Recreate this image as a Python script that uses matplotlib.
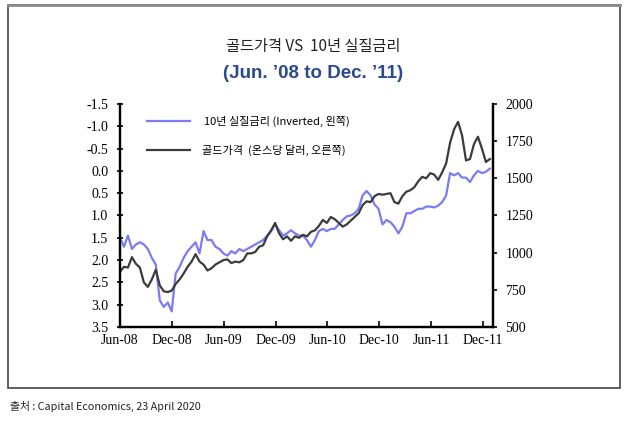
import numpy as np
import pandas as pd
import matplotlib
matplotlib.use("Agg")
import matplotlib.pyplot as plt
from matplotlib.patches import Rectangle

plt.rcParams['font.family'] = ['Noto Sans CJK KR', 'DejaVu Sans']

# biweekly readings, Jun 2008 -> Dec 2011
dates = pd.date_range("2008-06-01", periods=94, freq="14D")

# gold price (USD/oz, right axis)
gold = [872, 905, 900, 970, 925, 900, 800, 770, 820, 885,
        780, 740, 735, 745, 790, 820, 860, 905, 940, 990,
        940, 920, 880, 895, 920, 935, 950, 955, 930, 940,
        935, 950, 995, 995, 1005, 1040, 1050, 1110, 1150, 1200,
        1130, 1090, 1110, 1080, 1110, 1100, 1120, 1110, 1140, 1150,
        1180, 1220, 1200, 1240, 1225, 1200, 1175, 1190, 1215, 1240,
        1265, 1320, 1345, 1340, 1380, 1395, 1390, 1395, 1400, 1340,
        1330, 1380, 1410, 1420, 1440, 1480, 1510, 1500, 1535, 1525,
        1490, 1540, 1600, 1740, 1830, 1880, 1790, 1620, 1630, 1730,
        1780, 1700, 1610, 1630]

# 10y real yield (%, left axis, inverted)
real = [1.50, 1.70, 1.45, 1.75, 1.65, 1.60, 1.65, 1.75, 1.95, 2.10,
        2.90, 3.05, 2.95, 3.15, 2.30, 2.15, 1.95, 1.80, 1.70, 1.60,
        1.85, 1.35, 1.55, 1.55, 1.70, 1.75, 1.85, 1.90, 1.80, 1.85,
        1.75, 1.80, 1.75, 1.70, 1.65, 1.60, 1.55, 1.45, 1.35, 1.20,
        1.33, 1.45, 1.40, 1.33, 1.40, 1.45, 1.45, 1.55, 1.70, 1.55,
        1.35, 1.30, 1.35, 1.30, 1.30, 1.20, 1.10, 1.02, 1.00, 0.95,
        0.85, 0.55, 0.45, 0.55, 0.75, 0.85, 1.20, 1.10, 1.15, 1.25,
        1.40, 1.25, 0.95, 0.95, 0.90, 0.85, 0.85, 0.80, 0.80, 0.82,
        0.78, 0.70, 0.55, 0.05, 0.10, 0.05, 0.15, 0.15, 0.25, 0.10,
        0.00, 0.05, 0.02, -0.05]

xtick_dates = pd.to_datetime(["2008-06-01", "2008-12-01", "2009-06-01", "2009-12-01",
                              "2010-06-01", "2010-12-01", "2011-06-01", "2011-12-01"])
xtick_labels = ["Jun-08", "Dec-08", "Jun-09", "Dec-09", "Jun-10", "Dec-10", "Jun-11", "Dec-11"]
left_ticks = [-1.5, -1.0, -0.5, 0.0, 0.5, 1.0, 1.5, 2.0, 2.5, 3.0, 3.5]
right_ticks = [500, 750, 1000, 1250, 1500, 1750, 2000]

blue = "#7b7bf2"
dark = "#3b3b3b"
navy = "#2b4a8c"
serif = "Liberation Serif"

fig = plt.figure(figsize=(6.3, 4.22), dpi=100)

# outer frame
fig.patches.append(Rectangle((8 / 630, 1 - 388 / 422), 612 / 630, 383 / 422,
                             transform=fig.transFigure, fill=False,
                             edgecolor="#444444", lw=1.2))
fig.add_artist(plt.Line2D([8 / 630, 620 / 630], [1 - 5 / 422] * 2,
                          transform=fig.transFigure, color="#8a8a8a", lw=2))

ax = fig.add_axes([120 / 630, 1 - 327 / 422, 373 / 630, 223 / 422])
ax2 = ax.twinx()

ax.plot(dates, real, color=blue, lw=1.6)
ax2.plot(dates, gold, color=dark, lw=1.6)

ax.set_ylim(3.5, -1.5)
ax.set_yticks(left_ticks)
ax.set_yticklabels(["%.1f" % v for v in left_ticks], fontfamily=serif, fontsize=10)
ax2.set_ylim(500, 2000)
ax2.set_yticks(right_ticks)
ax2.set_yticklabels([str(v) for v in right_ticks], fontfamily=serif, fontsize=10)

ax.set_xlim(pd.Timestamp("2008-06-01"), pd.Timestamp("2012-01-05"))
ax.set_xticks(xtick_dates)
ax.set_xticklabels(xtick_labels, fontfamily=serif, fontsize=10)

for a in (ax, ax2):
    a.spines["top"].set_visible(False)
    for s in ("left", "right", "bottom"):
        a.spines[s].set_linewidth(1.6)
        a.spines[s].set_color("black")
ax.tick_params(axis="y", direction="inout", length=5, width=1.2, pad=6)
ax.tick_params(axis="x", direction="in", length=4, width=1.2, pad=5)
ax2.tick_params(axis="y", direction="out", length=3, width=1.2, pad=6)

# legend drawn by hand
fig.add_artist(plt.Line2D([147 / 630, 190 / 630], [1 - 121 / 422] * 2,
                          transform=fig.transFigure, color=blue, lw=1.6))
fig.add_artist(plt.Line2D([147 / 630, 190 / 630], [1 - 150 / 422] * 2,
                          transform=fig.transFigure, color=dark, lw=1.6))
fig.text(204 / 630, 1 - 121 / 422, "10년 실질금리 (Inverted, 왼쪽)",
         fontsize=8, va="center", ha="left")
fig.text(202 / 630, 1 - 150 / 422, "골드가격  (온스당 달러, 오른쪽)",
         fontsize=8, va="center", ha="left")

fig.text(313 / 630, 1 - 46 / 422, "골드가격 VS  10년 실질금리",
         fontsize=11, ha="center", va="center", color="#222222")
fig.text(313 / 630, 1 - 74 / 422, "(Jun. \u201908 to Dec. \u201911)",
         fontsize=13.5, ha="center", va="center", color=navy, fontweight="bold",
         family=["Liberation Sans", "DejaVu Sans"])

fig.text(10 / 630, 1 - 406 / 422, "출처 : Capital Economics, 23 April 2020",
         fontsize=7.8, ha="left", va="center", color="#222222")

fig.savefig("out.png", dpi=100)
